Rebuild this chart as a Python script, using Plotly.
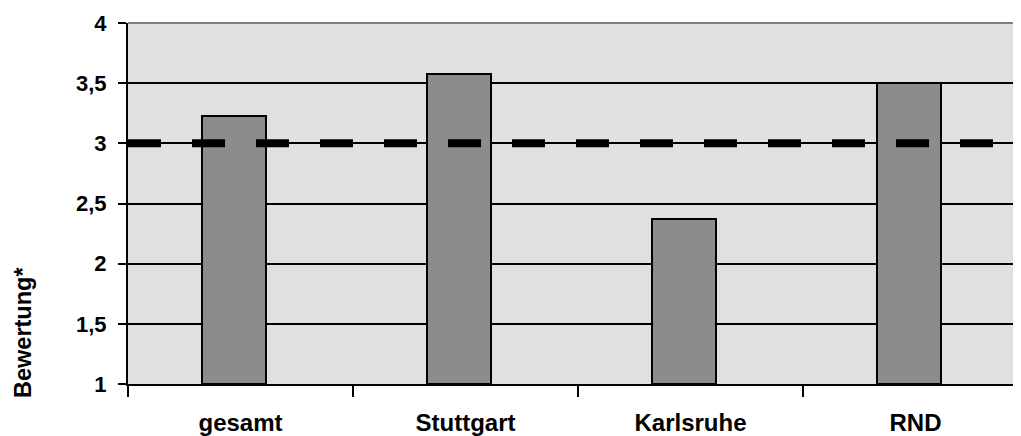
import plotly.graph_objects as go

categories = ["gesamt", "Stuttgart", "Karlsruhe", "RND"]
values = [3.23, 3.58, 2.37, 3.50]
reference_value = 3
y_ticks = [1, 1.5, 2, 2.5, 3, 3.5, 4]
y_tick_labels = ["1", "1,5", "2", "2,5", "3", "3,5", "4"]
y_title = "Bewertung*"
y_base = 1

FONT = "Arial, Liberation Sans, sans-serif"

fig = go.Figure()
fig.add_trace(go.Bar(
    x=categories, y=[v - y_base for v in values],
    base=y_base,
    width=0.284, offset=-0.169,
    marker=dict(color="#8C8C8C", line=dict(color="black", width=2)),
    showlegend=False, hoverinfo="skip",
))

fig.add_shape(type="line", xref="paper", yref="y", x0=0, x1=1,
              y0=reference_value, y1=reference_value,
              line=dict(color="black", width=8, dash="33px,31px"), layer="above")
fig.add_shape(type="line", xref="paper", yref="paper", x0=0, x1=1, y0=1, y1=1,
              line=dict(color="#808080", width=2), layer="above")

fig.add_annotation(text=y_title, xref="paper", yref="paper",
                   x=-0.1176, y=0.144, xanchor="center", yanchor="middle",
                   textangle=-90, showarrow=False,
                   font=dict(family=FONT, size=23.5, color="black", weight="bold"))

# page has an 8px body margin; figure is sized to fill the rest of the window
fig.update_layout(
    width=1013, height=428,
    margin=dict(l=120, r=0, t=15, b=52, autoexpand=False),
    paper_bgcolor="white", plot_bgcolor="#E0E0E0",
    font=dict(family=FONT, color="black"),
    bargap=0,
)
fig.update_xaxes(
    type="category", range=[-0.5, 3.469],
    tickson="boundaries", ticks="outside", ticklen=11, tickwidth=2, tickcolor="black",
    showline=True, linecolor="black", linewidth=2,
    showgrid=False, zeroline=False,
    tickfont=dict(family=FONT, size=24, color="black", weight="bold"),
    ticklabelstandoff=16, automargin=False,
)
fig.update_yaxes(
    range=[1, 4], tickvals=y_ticks, ticktext=y_tick_labels,
    ticks="outside", ticklen=8, tickwidth=2, tickcolor="black",
    showline=True, linecolor="black", linewidth=2,
    showgrid=True, gridcolor="black", gridwidth=1.5, zeroline=False,
    tickfont=dict(family=FONT, size=22, color="black", weight="bold"),
    ticklabelstandoff=7, automargin=False,
)

fig.write_html("out.html")
